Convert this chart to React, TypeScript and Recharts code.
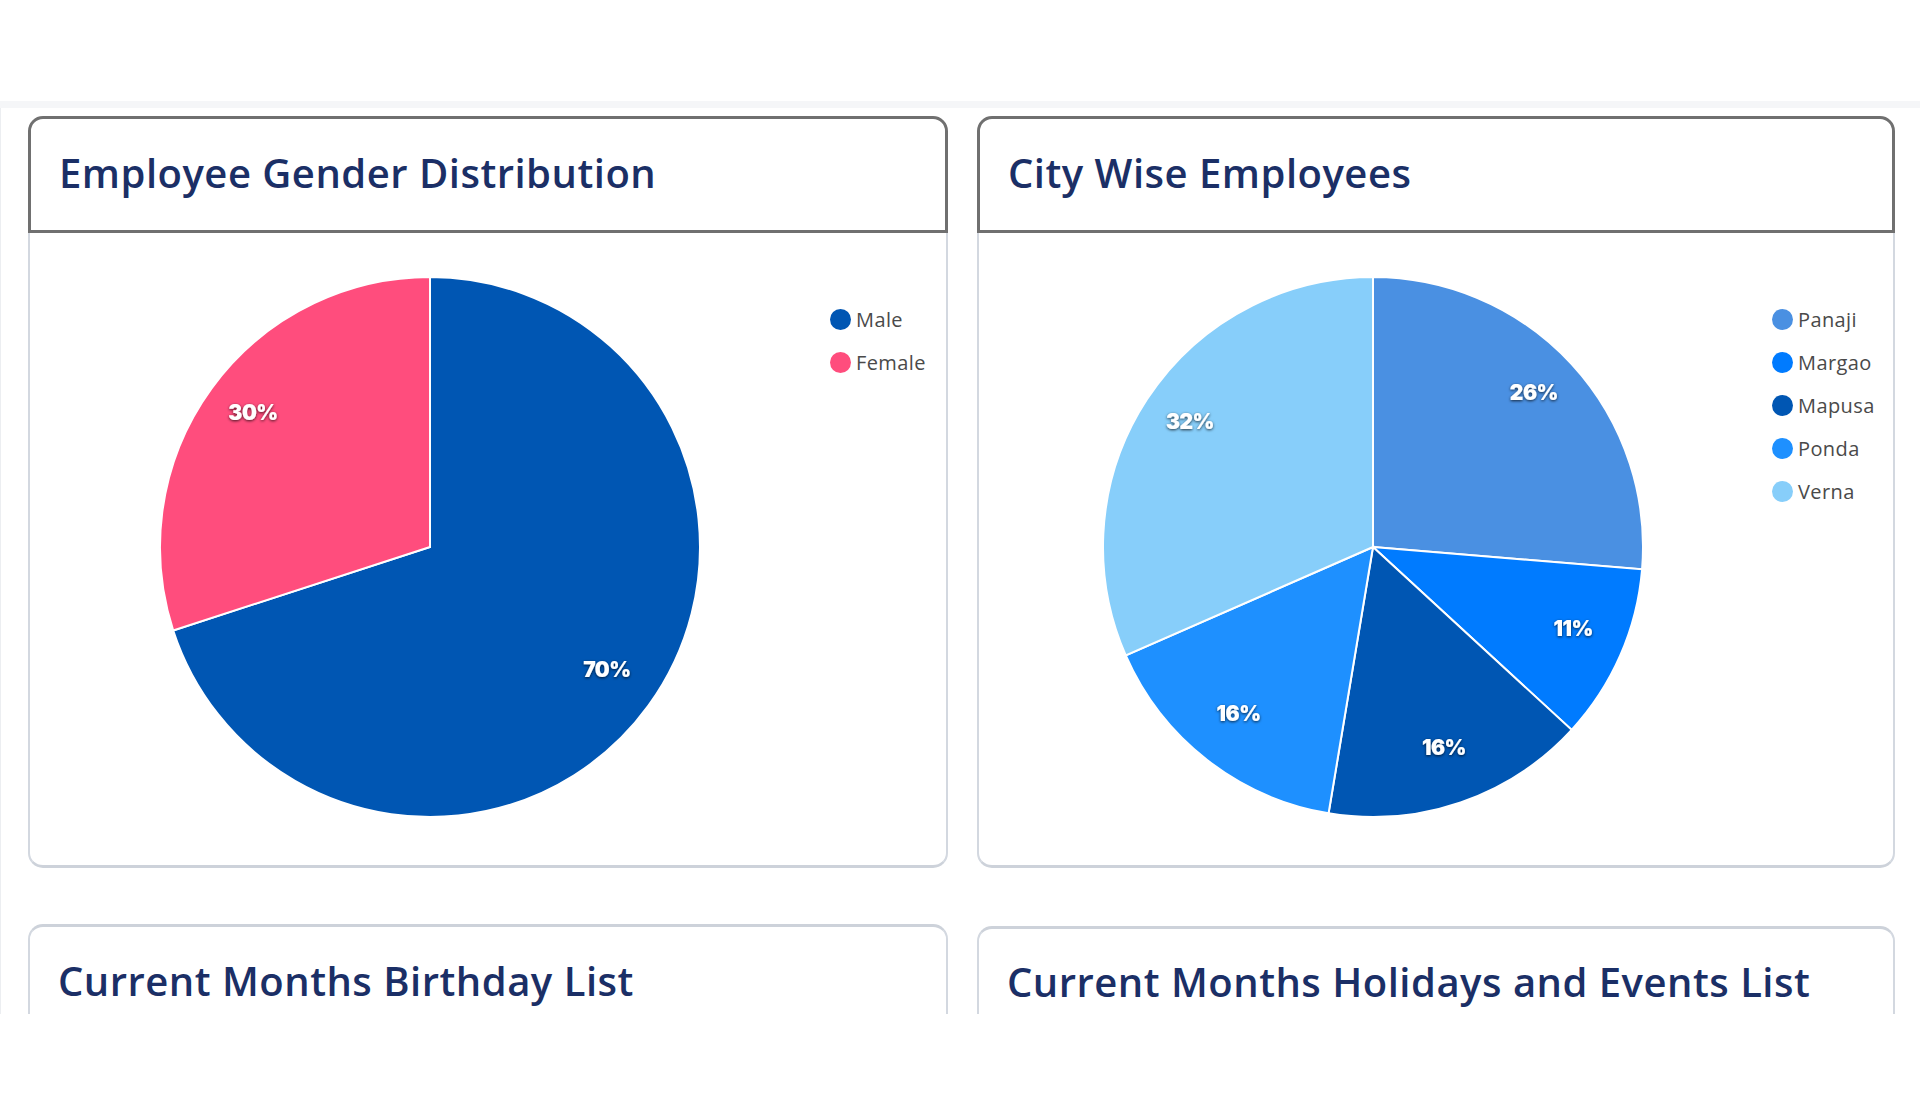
import { PieChart, Pie, Cell, Legend } from "recharts";

const genderNames = ["Male", "Female"];
const genderValues = [70, 30];
const genderColors = ["#0056B3", "#FF4D7D"];

const cityNames = ["Panaji", "Margao", "Mapusa", "Ponda", "Verna"];
const cityValues = [5, 2, 3, 3, 6];
const cityColors = ["#4A90E2", "#007BFF", "#0056B3", "#1E90FF", "#87CEFA"];

const genderData = genderNames.map((name, i) => ({ name, value: genderValues[i] }));
const cityData = cityNames.map((name, i) => ({ name, value: cityValues[i] }));

const RAD = Math.PI / 180;
const TITLE_FONT = "'Open Sans', 'Noto Sans', sans-serif";
const NO_MARGIN = { top: 0, right: 0, bottom: 0, left: 0 };

const renderLabel = (props: any) => {
  const { cx, cy, midAngle, outerRadius, percent } = props;
  const r = outerRadius * 0.81;
  const x = cx + r * Math.cos(-midAngle * RAD);
  const y = cy + r * Math.sin(-midAngle * RAD) - 6;
  return (
    <g>
      <defs>
        <filter id="lblShadow" x="-50%" y="-50%" width="200%" height="200%">
          <feDropShadow dx="0" dy="1" stdDeviation="1.6" floodColor="#000" floodOpacity="0.75" />
        </filter>
      </defs>
      <text
        x={x}
        y={y}
        fill="#fff"
        textAnchor="middle"
        dominantBaseline="central"
        fontFamily="Inter, 'Open Sans', sans-serif"
        fontWeight={900}
        fontSize={21}
        letterSpacing={-0.5}
        filter="url(#lblShadow)"
      >
        {`${(percent * 100).toFixed(0)}%`}
      </text>
    </g>
  );
};

const LegendList = ({ names, colors }: any) => (
  <div>
    {names.map((name: string, i: number) => (
      <div key={name} style={{ display: "flex", alignItems: "center", height: 43 }}>
        <span
          style={{
            width: 21,
            height: 21,
            borderRadius: "50%",
            background: colors[i],
            display: "inline-block",
            marginRight: 5,
          }}
        />
        <span
          style={{
            fontFamily: "'Open Sans', sans-serif",
            fontSize: 20,
            color: "#4a4a4a",
            letterSpacing: 0.4,
          }}
        >
          {name}
        </span>
      </div>
    ))}
  </div>
);

const titleStyle = (top: number) => ({
  position: "absolute" as const,
  left: 28,
  top,
  fontFamily: TITLE_FONT,
  fontWeight: 600,
  fontSize: 40,
  color: "#1B2F66",
  whiteSpace: "nowrap" as const,
  letterSpacing: 0.5,
});

const Card = ({ left, top, width, title, children }: any) => (
  <>
    <div
      style={{
        position: "absolute",
        left,
        top,
        width,
        height: 117,
        boxSizing: "border-box",
        border: "3px solid #707070",
        borderRadius: "15px 15px 0 0",
        background: "#fff",
      }}
    >
      <div style={titleStyle(26)}>{title}</div>
    </div>
    <div
      style={{
        position: "absolute",
        left,
        top: top + 117,
        width,
        height: 635,
        boxSizing: "border-box",
        borderLeft: "2px solid #d3d8e0",
        borderRight: "2px solid #d3d8e0",
        borderBottom: "3px solid #cdd2da",
        borderRadius: "0 0 15px 15px",
        background: "#fff",
      }}
    >
      {children}
    </div>
  </>
);

const ListCard = ({ left, top, width, title, titleTop }: any) => (
  <div
    style={{
      position: "absolute",
      left,
      top,
      width,
      height: 200,
      boxSizing: "border-box",
      borderTop: "3px solid #cdd2da",
      borderLeft: "2px solid #d3d8e0",
      borderRight: "2px solid #d3d8e0",
      borderRadius: "15px 15px 0 0",
      background: "#fff",
    }}
  >
    <div style={titleStyle(titleTop)}>{title}</div>
  </div>
);

export default function App() {
  return (
    <div
      style={{
        position: "absolute",
        left: 0,
        top: 0,
        width: 1920,
        height: 1117,
        background: "#fff",
        overflow: "hidden",
      }}
    >
      <div
        style={{
          position: "absolute",
          left: 0,
          top: 0,
          width: 1920,
          height: 1014,
          overflow: "hidden",
        }}
      >
        <div
          style={{
            position: "absolute",
            left: 0,
            top: 101,
            width: 1920,
            height: 7,
            background: "#f5f6f8",
          }}
        />
        <div
          style={{
            position: "absolute",
            left: 0,
            top: 108,
            width: 1,
            height: 906,
            background: "#eceef1",
          }}
        />

        <Card left={28} top={116} width={920} title="Employee Gender Distribution">
          <PieChart width={916} height={632} margin={NO_MARGIN}>
            <Pie
              data={genderData}
              dataKey="value"
              nameKey="name"
              cx={400}
              cy={314}
              outerRadius={270}
              startAngle={90}
              endAngle={-270}
              stroke="#fff"
              strokeWidth={2}
              label={renderLabel}
              labelLine={false}
              isAnimationActive={false}
            >
              {genderData.map((d, i) => (
                <Cell key={d.name} fill={genderColors[i]} />
              ))}
            </Pie>
            <Legend
              content={<LegendList names={genderNames} colors={genderColors} />}
              wrapperStyle={{ position: "absolute", left: 800, top: 65, width: 110 }}
            />
          </PieChart>
        </Card>

        <Card left={977} top={116} width={918} title="City Wise Employees">
          <PieChart width={914} height={632} margin={NO_MARGIN}>
            <Pie
              data={cityData}
              dataKey="value"
              nameKey="name"
              cx={394}
              cy={314}
              outerRadius={270}
              startAngle={90}
              endAngle={-270}
              stroke="#fff"
              strokeWidth={2}
              label={renderLabel}
              labelLine={false}
              isAnimationActive={false}
            >
              {cityData.map((d, i) => (
                <Cell key={d.name} fill={cityColors[i]} />
              ))}
            </Pie>
            <Legend
              content={<LegendList names={cityNames} colors={cityColors} />}
              wrapperStyle={{ position: "absolute", left: 793, top: 65, width: 115 }}
            />
          </PieChart>
        </Card>

        <ListCard
          left={28}
          top={924}
          width={920}
          titleTop={26}
          title="Current Months Birthday List"
        />
        <ListCard
          left={977}
          top={926}
          width={918}
          titleTop={25}
          title="Current Months Holidays and Events List"
        />
      </div>
    </div>
  );
}
